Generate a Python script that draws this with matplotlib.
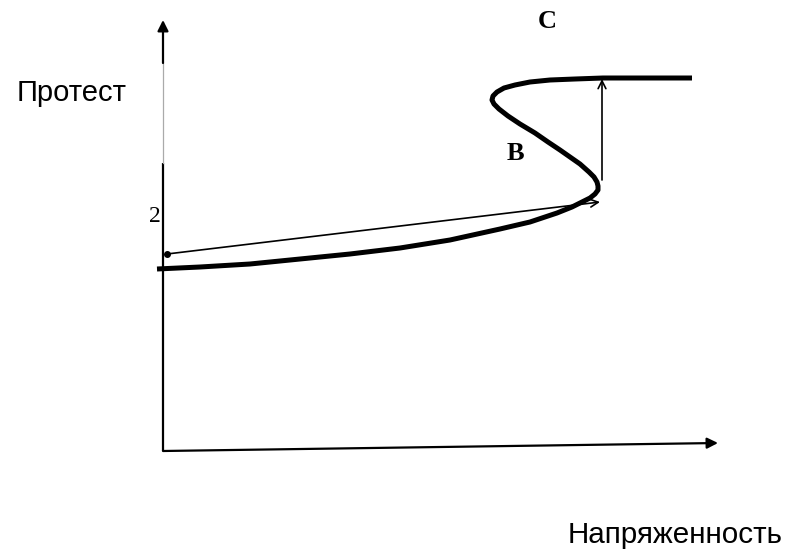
import matplotlib
matplotlib.use("Agg")
import matplotlib.pyplot as plt

# S-shaped response curve (pixel-like units, y downward)
curve_x = [157, 200, 250, 300, 350, 400, 450, 500, 530, 557, 572, 582, 590, 595, 598,
           598, 597, 594, 589, 580, 570, 560, 548, 535, 520, 508, 499, 494, 492, 493,
           497, 504, 515, 530, 550, 575, 603, 692]
curve_y = [269, 267, 264, 259, 254, 248, 240, 229, 222, 213, 207, 202, 198, 194, 190,
           186, 182, 177, 172, 164, 157, 150, 142, 133, 124, 116, 109, 104, 100, 96,
           92, 88, 85, 82, 80, 79, 78, 78]

# jump arrows
jump1_start = (167, 254)
jump1_end = (600, 202)
jump2_start = (602, 180)
jump2_end = (602, 79)

# axes lines
yaxis_x = 163
yaxis_bottom = 451
yaxis_top = 20
yaxis_gray = (63, 163)
xaxis_start = (163, 451)
xaxis_end = (718, 443)

label_y = "Протест"
label_x = "Напряженность"
label_C = "C"
label_B = "B"
label_2 = "2"

fig = plt.figure(figsize=(7.95, 5.5), dpi=100)
ax = fig.add_axes([0, 0, 1, 1])
ax.set_xlim(0, 795)
ax.set_ylim(550, 0)
ax.axis("off")

# vertical axis: black lower part, thin gray middle, black top with arrow
ax.plot([yaxis_x, yaxis_x], [yaxis_bottom, yaxis_gray[1]], color="black", lw=1.6,
        solid_capstyle="butt")
ax.plot([yaxis_x, yaxis_x], [yaxis_gray[1], yaxis_gray[0]], color="#aaaaaa", lw=0.9)
ax.annotate("", xy=(yaxis_x, yaxis_top), xytext=(yaxis_x, yaxis_gray[0]),
            arrowprops=dict(arrowstyle="-|>", color="black", lw=1.6,
                            mutation_scale=16, shrinkA=0, shrinkB=0))

# horizontal axis
ax.annotate("", xy=xaxis_end, xytext=xaxis_start,
            arrowprops=dict(arrowstyle="-|>", color="black", lw=1.6,
                            mutation_scale=16, shrinkA=0, shrinkB=0))

# thick S-curve
ax.plot(curve_x, curve_y, color="black", lw=3.6, solid_capstyle="butt",
        solid_joinstyle="round")

# jump arrows
ax.annotate("", xy=jump1_end, xytext=jump1_start,
            arrowprops=dict(arrowstyle="->", color="black", lw=1.2,
                            mutation_scale=14, shrinkA=0, shrinkB=0))
ax.plot([jump1_start[0]], [jump1_start[1]], "o", color="black", ms=4)
ax.annotate("", xy=jump2_end, xytext=jump2_start,
            arrowprops=dict(arrowstyle="->", color="black", lw=1.2,
                            mutation_scale=14, shrinkA=0, shrinkB=0))

# labels
ax.text(17, 101, label_y, fontsize=21, family="Liberation Sans",
        ha="left", va="baseline")
ax.text(568, 543, label_x, fontsize=21.3, family="Liberation Sans",
        ha="left", va="baseline")
ax.text(547, 21, label_C, fontsize=19, family="Liberation Serif",
        fontweight="bold", ha="center", va="center")
ax.text(515, 153, label_B, fontsize=19, family="Liberation Serif",
        fontweight="bold", ha="center", va="center")
ax.text(155, 216, label_2, fontsize=17, family="Liberation Serif",
        ha="center", va="center")

fig.savefig("out.png", dpi=100)
